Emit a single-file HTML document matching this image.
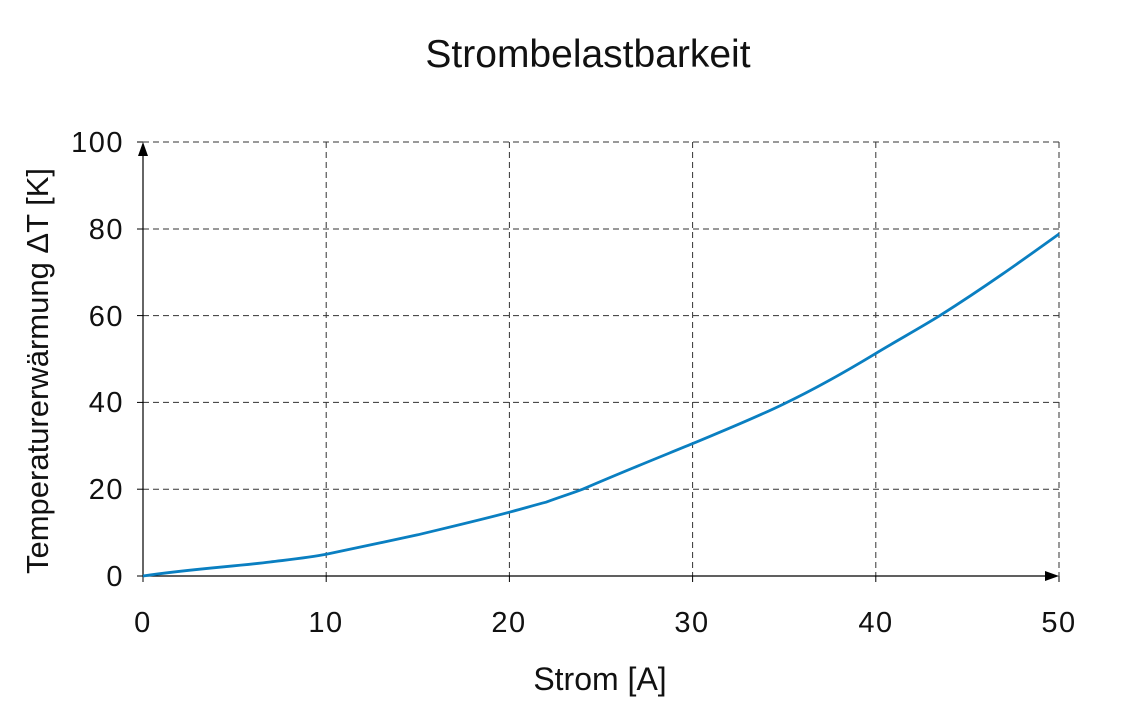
<!DOCTYPE html>
<html><head><meta charset="utf-8"><style>
html,body{margin:0;padding:0;background:#fff;}
svg{display:block;}
text{font-family:"Liberation Sans","DejaVu Sans",sans-serif;fill:#111;}
</style></head><body>
<svg width="1123" height="726" viewBox="0 0 1123 726" xmlns="http://www.w3.org/2000/svg">
<text x="588" y="67" font-size="39" text-anchor="middle">Strombelastbarkeit</text>
<g stroke="#333" stroke-width="1" stroke-dasharray="6,4" fill="none">
<line x1="143" y1="142" x2="1059" y2="142"/>
<line x1="143" y1="229" x2="1059" y2="229"/>
<line x1="143" y1="315.6" x2="1059" y2="315.6"/>
<line x1="143" y1="402.4" x2="1059" y2="402.4"/>
<line x1="143" y1="489.2" x2="1059" y2="489.2"/>
<line x1="326.2" y1="142" x2="326.2" y2="576"/>
<line x1="509.4" y1="142" x2="509.4" y2="576"/>
<line x1="692.6" y1="142" x2="692.6" y2="576"/>
<line x1="875.8" y1="142" x2="875.8" y2="576"/>
<line x1="1059" y1="142" x2="1059" y2="576"/>
</g>
<g stroke="#000" stroke-width="1.2">
<line x1="143" y1="576" x2="1050" y2="576"/>
<line x1="143" y1="576" x2="143" y2="152"/>
</g>
<polygon points="1059,576 1045,571 1045,581" fill="#000"/>
<polygon points="143,142 138,156 148,156" fill="#000"/>
<g stroke="#000" stroke-width="1">
<line x1="326.2" y1="576" x2="326.2" y2="582"/><line x1="509.4" y1="576" x2="509.4" y2="582"/>
<line x1="692.6" y1="576" x2="692.6" y2="582"/><line x1="875.8" y1="576" x2="875.8" y2="582"/>
<line x1="1059" y1="576" x2="1059" y2="582"/><line x1="143" y1="576" x2="143" y2="582"/>
<line x1="137" y1="142" x2="143" y2="142"/><line x1="137" y1="229" x2="143" y2="229"/>
<line x1="137" y1="315.6" x2="143" y2="315.6"/><line x1="137" y1="402.4" x2="143" y2="402.4"/>
<line x1="137" y1="489.2" x2="143" y2="489.2"/><line x1="137" y1="576" x2="143" y2="576"/>
</g>
<path d="M143,576 C190,569 234,566.5 270,562 C295,559 310,557.5 326.2,554.3 C360,547 390,541 417.8,534.8 C450,527 480,520 509.4,512.2 C525,508 535,505 546,502.2 C560,497 570,494 582.7,489.2 C620,473 655,459 692.6,443.6 C725,430 755,418 784.2,403.7 C815,389 845,372 875.8,353.4 C898,340 920,328 939.9,315.6 C985,287 1020,262 1059,234" fill="none" stroke="#0a7fc1" stroke-width="2.8"/>
<g font-size="29" text-anchor="end" letter-spacing="1.5">
<text x="124" y="152">100</text><text x="124" y="239">80</text><text x="124" y="326">60</text>
<text x="124" y="412">40</text><text x="124" y="499">20</text><text x="124" y="586">0</text>
</g>
<g font-size="29" text-anchor="middle" letter-spacing="1.5">
<text x="143" y="632">0</text><text x="326" y="632">10</text><text x="509" y="632">20</text>
<text x="692" y="632">30</text><text x="876" y="632">40</text><text x="1059" y="632">50</text>
</g>
<text x="600" y="690" font-size="32" text-anchor="middle">Strom [A]</text>
<text transform="translate(48,371) rotate(-90)" font-size="31" text-anchor="middle">Temperaturerwärmung ΔT [K]</text>
</svg>
</body></html>
